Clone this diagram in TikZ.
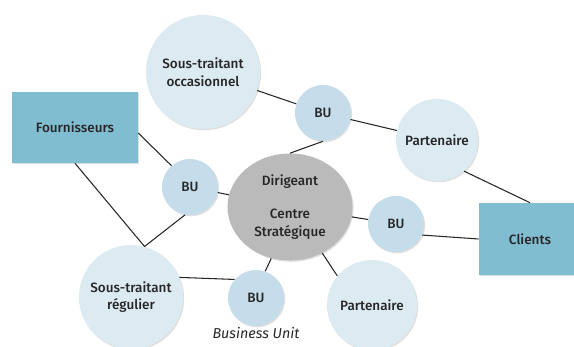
\documentclass[tikz,border=0pt]{standalone}
\usepackage{fontspec}
\setmainfont{Fira Sans}[BoldFont=* Medium]
\usetikzlibrary{shapes.geometric, shadows}

\definecolor{bleuBU}{HTML}{C5DDEA}
\definecolor{bleuclair}{HTML}{DCEAF2}
\definecolor{bleurect}{HTML}{80BDD1}
\definecolor{grisdir}{HTML}{BABABA}
\definecolor{texte}{HTML}{262626}

\begin{document}
\begin{tikzpicture}[x=0.025cm, y=-0.025cm,
  every node/.style={font=\fontsize{9.6}{12.5}\selectfont\bfseries, text=texte, align=center},
  ombre/.style={drop shadow={shadow xshift=0.8pt, shadow yshift=-0.9pt, opacity=0.25}},
  bu/.style={circle, fill=bleuBU, minimum size=1.4cm, inner sep=0pt, ombre},
  acteur/.style={circle, fill=bleuclair, inner sep=0pt, ombre},
  boite/.style={rectangle, fill=bleurect, inner sep=0pt, ombre},
  lien/.style={line width=0.75pt, black!85}]
\useasboundingbox (0,0) rectangle (574,347);

% le centre
\node[ellipse, fill=grisdir, minimum width=3.125cm, minimum height=2.675cm, ombre] (dir) at (290,207) {Dirigeant\\[11pt]Centre\\Stratégique};

% les BU
\node[bu] (buT) at (323,113) {BU};
\node[bu] (buL) at (190,187) {BU};
\node[bu] (buR) at (396,224) {BU};
\node[bu] (buB) at (256,298) {BU};
\node[font=\fontsize{10.2}{12}\selectfont\itshape] (bunit) at (256,333) {Business Unit};

% acteurs autour
\node[acteur, minimum size=2.85cm] (occ) at (203,72) {Sous-traitant\\occasionnel};
\node[acteur, minimum size=2.6cm] (reg) at (131,297) {Sous-traitant\\régulier};
\node[acteur, minimum size=2.05cm] (parT) at (437,140) {Partenaire};
\node[acteur, minimum size=2.25cm] (parB) at (372,305) {Partenaire};
\node[boite, minimum width=3.15cm, minimum height=1.775cm] (four) at (75,127.5) {Fournisseurs};
\node[boite, minimum width=2.55cm, minimum height=1.8cm] (cli) at (530,239) {Clients};

\draw[lien] (occ) -- (buT);
\draw[lien] (buT) -- (parT);
\draw[lien] (parT.-49) -- (cli.north);
\draw[lien] (dir.north) -- (buT.south);
\draw[lien] (four.-5) -- (buL.131);
\draw[lien] (four.south) -- (reg.75) -- (buL.-100);
\draw[lien] (buL) -- (dir);
\draw[lien] (reg.22) -- (buB.139);
\draw[lien] (dir.250) -- (buB.71);
\draw[lien] (dir) -- (buR);
\draw[lien] (buR.-23) -- (cli.west);
\draw[lien] (dir.-55) -- (parB.140);
\end{tikzpicture}
\end{document}
